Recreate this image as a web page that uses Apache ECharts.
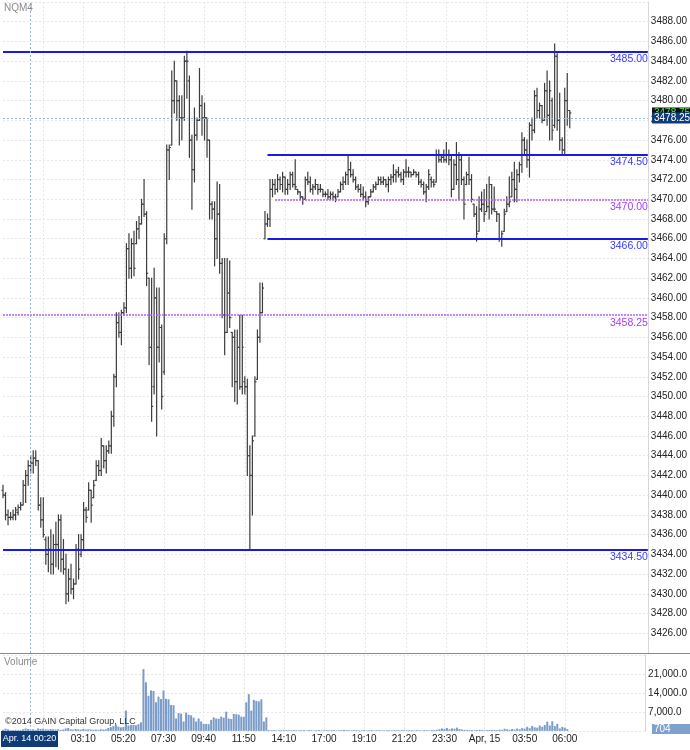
<!DOCTYPE html>
<html><head><meta charset="utf-8">
<script src="https://cdn.jsdelivr.net/npm/echarts@6/dist/echarts.min.js"></script>
<style>html,body{margin:0;padding:0;background:#fff}#c{width:690px;height:750px}</style>
</head><body><div id="c"></div>
<script>
// ---- data ----
const tickLabels = ['01:00','03:10','05:20','07:30','09:40','11:50','14:10','17:00','19:10','21:20','23:30','Apr, 15','03:50','06:00']; // every 16 bars from bar 16
const open = [
3440.5,3440.0,3438.0,3437.75,3437.75,3438.0,3438.25,3438.75,3439.0,3441.0,
3442.0,3443.0,3443.25,3443.75,3443.5,3439.0,3437.5,3435.5,3434.0,3434.5,
3433.0,3435.0,3435.0,3437.5,3433.5,3432.5,3430.0,3431.5,3430.5,3431.0,
3434.5,3434.0,3435.5,3438.5,3438.5,3440.5,3439.75,3441.5,3443.0,3442.5,
3445.0,3443.5,3444.5,3445.0,3448.0,3452.0,3457.5,3456.5,3458.5,3459.0,
3465.0,3463.0,3465.5,3465.5,3467.0,3467.5,3469.5,3468.5,3462.0,3455.0,
3451.0,3460.0,3455.0,3457.0,3452.5,3466.0,3475.0,3475.5,3480.0,3482.0,
3480.0,3478.25,3478.25,3484.0,3482.0,3476.0,3473.0,3476.5,3478.0,3479.5,
3478.25,3478.25,3476.0,3469.5,3469.0,3466.0,3468.5,3463.5,3458.25,3456.5,
3460.5,3456.5,3456.0,3451.5,3455.0,3451.0,3451.5,3451.0,3444.0,3442.0,
3446.0,3451.75,3456.0,3458.5,3466.0,3467.5,3468.0,3471.0,3471.5,3471.0,
3472.0,3471.5,3472.25,3471.0,3471.5,3472.5,3471.5,3471.0,3470.75,3470.25,
3470.0,3472.0,3471.75,3471.0,3471.25,3471.5,3471.0,3471.0,3470.5,3470.5,
3470.25,3470.5,3470.25,3470.25,3470.75,3471.5,3471.75,3472.5,3473.0,3472.5,
3472.0,3471.25,3471.0,3470.5,3470.25,3469.75,3470.25,3470.75,3471.25,3471.5,
3472.0,3471.75,3472.0,3471.5,3472.0,3472.25,3472.5,3472.75,3472.5,3472.0,
3472.75,3472.75,3472.75,3472.5,3472.75,3472.5,3471.75,3471.5,3470.75,3471.25,
3472.0,3471.75,3471.75,3474.5,3474.0,3474.25,3474.0,3474.5,3474.0,3471.0,
3473.5,3472.0,3474.0,3472.0,3471.5,3472.5,3472.0,3469.5,3468.5,3466.75,
3469.0,3469.5,3468.75,3469.25,3471.5,3469.0,3468.75,3468.5,3466.0,3466.75,
3468.75,3469.5,3470.25,3472.0,3471.0,3472.5,3473.5,3476.0,3475.0,3474.0,
3477.5,3477.0,3480.5,3479.0,3479.5,3478.0,3481.0,3478.5,3480.0,3477.5,
3484.5,3478.0,3476.0,3475.0,3480.0,3479.0];
const high = [
3441.0,3440.25,3438.5,3438.25,3438.5,3438.75,3439.0,3439.25,3441.5,3442.5,
3443.5,3444.0,3444.5,3444.5,3443.5,3439.75,3439.75,3435.75,3435.75,3436.5,
3436.0,3437.25,3438.0,3438.0,3435.5,3434.0,3432.5,3433.0,3431.5,3435.0,
3436.0,3436.0,3439.25,3438.75,3441.25,3440.5,3441.5,3443.5,3443.5,3445.75,
3445.0,3445.0,3445.5,3448.5,3452.25,3458.5,3458.5,3458.75,3459.5,3465.5,
3466.5,3466.0,3466.75,3467.75,3468.25,3470.0,3472.0,3468.75,3462.0,3462.0,
3463.0,3461.0,3461.0,3457.25,3466.5,3475.5,3475.5,3483.0,3484.0,3482.0,
3480.5,3480.5,3484.5,3485.0,3482.5,3476.5,3479.25,3478.25,3483.25,3480.5,
3479.75,3478.25,3476.0,3469.75,3469.75,3471.75,3471.5,3464.0,3464.0,3464.0,
3463.75,3456.5,3456.75,3456.75,3458.25,3458.25,3452.0,3451.75,3445.0,3446.0,
3452.0,3456.75,3461.5,3461.5,3468.75,3468.5,3472.0,3472.0,3472.0,3472.5,
3472.25,3472.75,3472.25,3472.0,3472.75,3472.75,3474.0,3471.0,3470.75,3470.25,
3472.25,3472.75,3472.25,3471.5,3472.0,3471.5,3471.5,3471.0,3470.75,3471.0,
3470.75,3470.75,3470.5,3471.0,3471.75,3472.25,3472.75,3474.5,3473.75,3473.0,
3472.25,3471.5,3471.5,3471.25,3470.75,3470.25,3471.0,3471.5,3471.75,3472.25,
3472.25,3472.25,3472.0,3472.25,3472.5,3473.5,3473.0,3473.25,3472.75,3473.0,
3474.0,3473.25,3472.75,3473.0,3472.75,3472.75,3472.0,3471.75,3471.5,3473.0,
3472.25,3472.0,3475.0,3475.0,3474.5,3475.0,3475.75,3475.0,3474.5,3474.0,
3475.75,3474.75,3474.5,3472.25,3472.75,3474.25,3472.5,3469.5,3469.25,3470.25,
3470.75,3471.0,3471.5,3472.25,3471.5,3471.25,3468.75,3468.5,3466.75,3469.0,
3470.25,3472.25,3472.75,3473.75,3473.0,3473.75,3476.75,3476.25,3476.0,3477.75,
3478.25,3481.0,3481.25,3479.75,3479.5,3481.75,3483.0,3482.0,3480.25,3485.75,
3484.75,3480.75,3476.25,3481.25,3482.75,3479.0];
const low = [
3439.75,3437.5,3437.0,3437.5,3437.5,3437.5,3438.0,3438.5,3439.0,3439.25,
3441.0,3442.25,3442.25,3443.0,3438.5,3436.75,3435.75,3433.0,3432.25,3432.0,
3432.0,3432.75,3432.5,3432.25,3432.0,3429.0,3429.25,3430.0,3429.5,3431.0,
3431.5,3433.75,3434.5,3437.25,3438.5,3437.25,3439.75,3441.5,3442.0,3442.0,
3442.75,3442.25,3444.25,3444.25,3447.0,3451.0,3456.0,3455.25,3458.25,3458.5,
3462.0,3462.0,3462.25,3465.5,3466.0,3467.5,3468.25,3461.25,3453.25,3447.5,
3450.25,3446.0,3453.5,3448.75,3452.25,3465.5,3472.0,3475.5,3478.75,3478.0,
3475.5,3476.0,3478.0,3480.25,3474.25,3469.0,3471.75,3476.0,3478.0,3476.5,
3476.0,3474.25,3468.0,3468.0,3463.25,3464.0,3462.5,3458.0,3454.25,3456.5,
3457.0,3451.0,3449.5,3449.25,3450.75,3450.25,3450.25,3442.0,3434.5,3438.0,
3446.0,3451.75,3455.5,3458.5,3466.0,3467.25,3467.25,3470.25,3470.5,3470.75,
3471.0,3470.75,3470.5,3470.5,3471.0,3471.25,3471.0,3470.5,3470.0,3469.5,
3470.0,3471.5,3470.75,3470.5,3471.0,3470.5,3470.75,3470.25,3470.25,3470.0,
3470.0,3470.0,3469.75,3470.25,3470.75,3471.0,3471.5,3471.5,3472.25,3471.75,
3471.0,3470.75,3470.25,3470.0,3469.25,3469.5,3470.25,3470.75,3471.0,3471.5,
3471.5,3471.5,3471.25,3470.75,3471.5,3471.75,3471.75,3472.25,3471.75,3471.5,
3472.25,3472.25,3472.25,3472.5,3472.25,3471.5,3471.25,3470.5,3469.75,3471.0,
3471.25,3471.25,3471.75,3473.75,3473.75,3473.75,3473.75,3473.5,3470.25,3471.0,
3471.5,3470.0,3471.5,3468.0,3471.5,3471.5,3469.75,3468.25,3465.75,3466.75,
3468.75,3467.75,3468.75,3468.0,3468.5,3468.75,3467.75,3465.75,3465.25,3466.75,
3468.75,3469.25,3470.25,3469.75,3469.75,3471.75,3472.75,3474.5,3473.25,3472.25,
3476.0,3476.75,3478.25,3478.25,3477.75,3478.0,3477.5,3476.0,3476.0,3477.25,
3477.0,3475.0,3474.5,3474.5,3477.5,3477.25];
const close = [
3440.0,3438.0,3437.75,3437.75,3438.0,3438.5,3438.75,3439.0,3441.0,3442.0,
3443.0,3443.25,3443.75,3443.5,3439.0,3437.5,3436.0,3434.0,3434.5,3433.0,
3435.0,3435.0,3437.5,3433.5,3432.5,3430.0,3431.5,3430.5,3431.0,3434.5,
3432.5,3435.5,3438.5,3437.75,3440.5,3439.0,3441.0,3443.0,3442.5,3445.0,
3443.5,3444.5,3445.0,3448.0,3452.0,3457.5,3456.5,3458.5,3459.0,3465.0,
3463.0,3465.5,3463.0,3467.0,3467.5,3469.5,3468.5,3462.5,3455.0,3449.0,
3460.0,3455.0,3457.0,3450.0,3466.0,3475.0,3475.25,3480.0,3482.0,3480.0,
3478.25,3478.25,3484.0,3484.0,3476.0,3473.0,3476.5,3478.0,3479.5,3478.25,
3478.25,3476.0,3469.5,3469.0,3466.0,3468.5,3463.5,3458.25,3456.5,3460.5,
3458.0,3456.0,3451.5,3455.0,3451.0,3455.0,3451.0,3444.0,3442.0,3445.5,
3451.5,3456.0,3458.5,3461.0,3467.5,3468.0,3471.0,3471.5,3471.0,3472.0,
3471.5,3472.25,3471.0,3471.5,3472.5,3471.5,3471.25,3470.75,3470.25,3470.0,
3472.0,3471.75,3471.0,3471.25,3471.5,3471.0,3471.0,3470.5,3470.5,3470.25,
3470.5,3470.25,3470.0,3470.75,3471.5,3471.75,3472.5,3473.0,3472.5,3472.0,
3471.25,3471.0,3470.5,3470.25,3469.75,3470.25,3470.75,3471.25,3471.5,3472.0,
3471.75,3472.0,3471.5,3472.0,3472.25,3472.5,3472.75,3472.5,3472.0,3472.75,
3472.75,3472.75,3472.5,3472.75,3472.5,3471.75,3471.5,3470.75,3471.25,3472.5,
3471.75,3471.5,3474.5,3474.0,3474.25,3474.0,3474.5,3474.0,3471.0,3473.5,
3472.0,3474.0,3472.0,3469.5,3472.5,3472.0,3470.0,3468.5,3466.5,3469.0,
3469.5,3468.5,3469.25,3471.5,3469.0,3469.0,3468.5,3466.0,3466.5,3468.5,
3469.5,3469.75,3472.0,3471.0,3472.5,3473.5,3476.0,3475.0,3474.0,3477.5,
3477.0,3480.5,3479.0,3479.5,3478.0,3481.0,3478.5,3481.0,3477.0,3484.5,
3478.0,3476.0,3475.0,3480.0,3479.0,3478.75];
const volume = [
400,800,600,300,300,400,300,300,600,900,700,500,600,400,900,700,
800,600,500,700,600,500,600,400,500,900,1100,600,500,700,600,500,
700,500,600,500,400,500,400,600,500,600,1100,1400,1800,2300,1600,1300,
1500,7500,2000,2200,2200,2100,2500,3200,22900,18000,13000,15000,14800,10600,12700,11800,
15000,11900,11700,9600,9500,4600,6600,6400,3500,6800,6000,5800,4900,3500,4600,3500,
2600,2600,2500,4100,5000,4600,4500,5300,4900,7100,4600,4400,6300,6200,6000,5300,
5200,10600,13600,7500,11500,11100,10900,11700,3500,5000,300,250,300,200,250,300,
250,300,200,250,300,250,200,300,250,200,300,250,200,250,300,200,
250,300,200,250,300,200,250,300,350,300,250,200,300,250,200,250,
300,200,250,300,200,250,300,250,200,300,250,200,300,250,200,300,
250,200,300,250,200,300,250,200,300,250,200,300,350,400,600,900,
700,1100,600,900,800,1200,700,500,400,300,350,300,250,300,400,300,
250,300,350,300,400,300,500,400,800,600,400,700,500,900,600,1000,
800,1500,1000,1800,1300,1200,2000,1500,2200,3400,2000,3600,1800,2600,900,1500,
1200,704];
const fullSolidLevels = [3485.00, 3434.50];
const partSolidLevels = [3474.50, 3466.00];   // drawn from bar 105
const fullDottedLevels = [3458.25];
const partDottedLevels = [3470.00];           // drawn from bar 108
const crossPrice = 3478.25, lastPrice = 3478.75, lastVolume = 704;
const crossBar = 11, crossTimeLabel = 'Apr. 14 00:20';
const slotCount = 257;

// ---- chart ----
const cats = Array.from({length: slotCount}, (_, i) => String(i));
const ohlc = open.map((o, i) => [i, o, high[i], low[i], close[i]]);
const FONT = 'Liberation Sans, Arial, sans-serif';
const gridShow = i => i > 0 && i % 16 === 0 && i <= 224;
const splitStyle = {color: '#e6e6e6', type: [2, 2], width: 1};
const blue = '#1a1ae6', blueTxt = '#3a3aff', purple = '#b060ff', purpleTxt = '#a040ff';

const lvlLabel = (v, c) => ({show: true, position: 'insideEndBottom', formatter: v.toFixed(2), color: c, fontSize: 10.5, fontFamily: FONT, distance: [0, 2]});
const mlData = [];
fullSolidLevels.forEach(v => mlData.push({yAxis: v, lineStyle: {color: blue, width: 2, type: 'solid'}, label: lvlLabel(v, blueTxt)}));
partSolidLevels.forEach(v => mlData.push([{coord: [105, v], lineStyle: {color: blue, width: 2, type: 'solid'}, label: lvlLabel(v, blueTxt)}, {coord: [slotCount - 1, v]}]));
fullDottedLevels.forEach(v => mlData.push({yAxis: v, lineStyle: {color: purple, width: 1.5, type: [2, 1]}, label: lvlLabel(v, purpleTxt)}));
partDottedLevels.forEach(v => mlData.push([{coord: [108, v], lineStyle: {color: purple, width: 1.5, type: [2, 1]}, label: lvlLabel(v, purpleTxt)}, {coord: [slotCount - 1, v]}]));
mlData.push({yAxis: crossPrice, lineStyle: {color: '#9fb4d2', width: 1, type: [2, 2]}, label: {show: false}});
mlData.push({xAxis: crossBar, lineStyle: {color: '#8fb0dc', width: 1, type: [2, 2]}, label: {show: false}});

const chart = echarts.init(document.getElementById('c'), null, {renderer: 'canvas'});
const fmtVol = v => v.toLocaleString('en-US', {minimumFractionDigits: 1, maximumFractionDigits: 1});
chart.setOption({
  animation: false,
  backgroundColor: '#fff',
  grid: [
    {left: 3, right: 39, top: 2, height: 651},
    {left: 3, right: 39, top: 655.3, height: 75.6}
  ],
  xAxis: [
    {type: 'category', gridIndex: 0, data: cats, boundaryGap: false,
     axisLine: {show: false}, axisTick: {show: false}, axisLabel: {show: false},
     splitLine: {show: true, interval: gridShow, lineStyle: splitStyle}},
    {type: 'category', gridIndex: 1, data: cats, boundaryGap: false,
     axisLine: {show: false}, axisTick: {show: false},
     axisLabel: {show: true, interval: gridShow, margin: 3, fontSize: 10, fontFamily: FONT, color: '#222',
       formatter: (v, idx) => tickLabels[Number(v) / 16 - 1] || ''},
     splitLine: {show: true, interval: gridShow, lineStyle: splitStyle}}
  ],
  yAxis: [
    {type: 'value', gridIndex: 0, position: 'right', min: 3424, max: 3490, interval: 2,
     axisLine: {show: true, lineStyle: {color: '#d8d8d8'}}, axisTick: {show: false},
     axisLabel: {margin: 3, fontSize: 10, fontFamily: FONT, color: '#222', showMinLabel: false, showMaxLabel: false,
       formatter: v => v.toFixed(2)},
     splitLine: {show: true, lineStyle: splitStyle}},
    {type: 'value', gridIndex: 1, position: 'right', min: 0, max: 28000, interval: 7000,
     axisLine: {show: true, lineStyle: {color: '#d8d8d8'}}, axisTick: {show: false},
     axisLabel: {margin: 3, fontSize: 10, fontFamily: FONT, color: '#222', showMinLabel: false, showMaxLabel: false,
       formatter: v => fmtVol(v)},
     splitLine: {show: true, lineStyle: splitStyle}}
  ],
  series: [
    {type: 'custom', xAxisIndex: 0, yAxisIndex: 0, data: ohlc, encode: {x: 0, y: [1, 2, 3, 4]}, z: 3,
     renderItem: (params, api) => {
       const i = api.value(0);
       const pO = api.coord([i, api.value(1)]), pH = api.coord([i, api.value(2)]);
       const pL = api.coord([i, api.value(3)]), pC = api.coord([i, api.value(4)]);
       const x = pH[0];
       const st = {stroke: '#3c3c3c', lineWidth: 1.2};
       return {type: 'group', children: [
         {type: 'line', shape: {x1: x, y1: pH[1] - 0.5, x2: x, y2: pL[1] + 0.5}, style: st},
         {type: 'line', shape: {x1: x - 1.6, y1: pO[1], x2: x, y2: pO[1]}, style: st},
         {type: 'line', shape: {x1: x, y1: pC[1], x2: x + 1.6, y2: pC[1]}, style: st}
       ]};
     },
     markLine: {silent: true, symbol: ['none', 'none'], animation: false, data: mlData}},
    {type: 'bar', xAxisIndex: 1, yAxisIndex: 1, data: volume, barWidth: 2,
     itemStyle: {color: '#7b9bc9'},
     markLine: {silent: true, symbol: ['none', 'none'], animation: false,
       data: [{xAxis: crossBar, lineStyle: {color: '#8fb0dc', width: 1, type: [2, 2]}, label: {show: false}}]}}
  ]
});

const xc = chart.convertToPixel({xAxisIndex: 0}, crossBar);
const yCross = chart.convertToPixel({yAxisIndex: 0}, crossPrice);
const yLast = chart.convertToPixel({yAxisIndex: 0}, lastPrice);
const yVol = chart.convertToPixel({yAxisIndex: 1}, lastVolume);
const tf = (t, x, y, c, s, extra) => Object.assign({type: 'text', x: x, y: y, z: 100, style: {text: t, fill: c, font: s + 'px ' + FONT}}, extra || {});
chart.setOption({graphic: [
  {type: 'line', shape: {x1: 0, y1: 653.5, x2: 690, y2: 653.5}, style: {stroke: '#8a8a8a', lineWidth: 1}, z: 50},
  tf('NQM4', 4, 3, '#8a8a8a', 10),
  tf('Volume', 4, 657, '#8a8a8a', 10),
  tf('\u00a92014 GAIN Capital Group, LLC', 5, 717, '#333', 9),
  {type: 'rect', shape: {x: 652, y: yLast - 5.5, width: 38, height: 11}, style: {fill: '#111'}, z: 100},
  tf(lastPrice.toFixed(2), 654, yLast - 5, '#52e052', 10),
  {type: 'rect', shape: {x: 652, y: yCross - 5.5, width: 38, height: 11}, style: {fill: '#0e3c78'}, z: 101},
  tf(crossPrice.toFixed(2), 654, yCross - 5, '#fff', 10, {z: 102}),
  {type: 'rect', shape: {x: 652, y: yVol - 5, width: 38, height: 10}, style: {fill: '#7f9fcf'}, z: 100},
  tf(String(lastVolume), 654, yVol - 4.5, '#fff', 10, {z: 101}),
  {type: 'rect', shape: {x: 1, y: 731, width: 57, height: 16}, style: {fill: '#0e3c78'}, z: 100},
  {type: 'text', x: 29.5, y: 739, z: 101, style: {text: crossTimeLabel, fill: '#fff', font: '9px ' + FONT, align: 'center', verticalAlign: 'middle'}}
]});
</script></body></html>
